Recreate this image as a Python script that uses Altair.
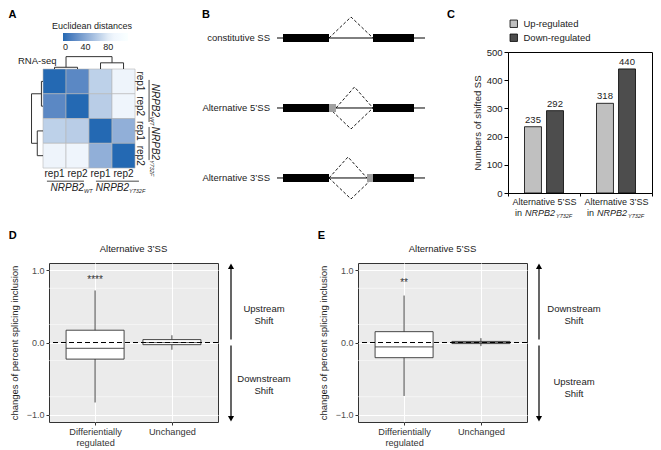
import altair as alt
import pandas as pd

FONT = "Liberation Sans"
INK = "#222222"

# ---------------- Panel A: sample distance heatmap ----------------
sample_reps = ["rep1", "rep2", "rep1", "rep2"]
dist_matrix = [
    [0, 20, 64, 85],
    [20, 0, 62, 87],
    [64, 62, 0, 44],
    [85, 87, 44, 0],
]
dendro_heights = [0.07, 0.25, 0.5]   # WT merge, Y732F merge, root
geno_main = ["NRPB2", "NRPB2"]
geno_sub = ["WT", "Y732F"]
legend_ticks = [0, 40, 80]

# ---------------- Panel B: splicing schematics ----------------
ss_types = ["constitutive SS", "Alternative 5\u2019SS", "Alternative 3\u2019SS"]
gene_span = [0, 148]
exon_start = [6, 96]
exon_end = [52, 137]
alt_row = [1, 2]
alt_start = [52, 90]
alt_end = [59, 96]
junc_row = [0, 1, 1, 2, 2]
junc_donor = [52, 59, 52, 52, 52]
junc_acceptor = [96, 96, 96, 90, 96]
junc_side = [-1, -1, 1, -1, 1]

# ---------------- Panel C: shifted splice sites ----------------
c_groups = ["Alternative 5\u2019SS", "Alternative 3\u2019SS"]
c_status = ["Up-regulated", "Down-regulated"]
c_up = [235, 318]
c_down = [292, 440]

# ---------------- Panels D / E: box plot summaries ----------------
box_cats = ["Differientially regulated", "Unchanged"]
d_lower = [-0.83, -0.10]
d_q1 = [-0.23, -0.03]
d_med = [-0.08, 0.0]
d_q3 = [0.17, 0.04]
d_upper = [0.72, 0.10]
d_star = ["****", ""]
d_star_y = [0.87, 0.87]

e_lower = [-0.74, -0.05]
e_q1 = [-0.21, -0.015]
e_med = [-0.06, 0.0]
e_q3 = [0.15, 0.015]
e_upper = [0.65, 0.06]
e_star = ["**", ""]
e_star_y = [0.83, 0.83]

minor_grid = [-0.75, -0.25, 0.25, 0.75]
y_ticks = [-1.0, -0.5, 0.0, 0.5, 1.0]


# =====================================================================
# Panel A
# =====================================================================
sxA = alt.Scale(domain=[0.26, 5.52], nice=False, zero=False)
syA = alt.Scale(domain=[-0.687, 5.29], nice=False, zero=False, reverse=True)


def axy(sx, sy):
    return dict(x=alt.X("x:Q", scale=sx, axis=None), y=alt.Y("y:Q", scale=sy, axis=None))


heat = pd.DataFrame([
    {"r": r, "r2": r + 1, "c": c, "c2": c + 1, "d": dist_matrix[r][c]}
    for r in range(4) for c in range(4)
])

heat_layer = alt.Chart(heat).mark_rect(stroke="#b5b5b5", strokeWidth=0.6).encode(
    x=alt.X("c:Q", scale=sxA, axis=None), x2=alt.X2("c2"),
    y=alt.Y("r:Q", scale=syA, axis=None), y2=alt.Y2("r2"),
    color=alt.Color(
        "d:Q",
        scale=alt.Scale(domain=[0, 85, 115], range=["#2469b3", "#eef4fb", "#ffffff"]),
        legend=alt.Legend(orient="none", legendX=14, legendY=-19, direction="horizontal",
                          gradientLength=65, gradientThickness=8, title=None,
                          values=legend_ticks, labelFontSize=9, labelColor=INK,
                          gradientStrokeWidth=0),
    ),
)


def dendro(h):
    hw, hy, hr = h
    return [
        (0.5, 0, 0.5, -hw), (1.5, 0, 1.5, -hw), (0.5, -hw, 1.5, -hw),
        (2.5, 0, 2.5, -hy), (3.5, 0, 3.5, -hy), (2.5, -hy, 3.5, -hy),
        (1.0, -hw, 1.0, -hr), (3.0, -hy, 3.0, -hr), (1.0, -hr, 3.0, -hr),
    ]


segs = dendro(dendro_heights)
top_d = pd.DataFrame([{"x": p, "y": h, "x2": p2, "y2": h2} for p, h, p2, h2 in segs])
left_d = pd.DataFrame([{"x": h, "y": p, "x2": h2, "y2": p2} for p, h, p2, h2 in segs])


def seg_layer(df, sx, sy, **kw):
    return alt.Chart(df).mark_rule(**kw).encode(
        x=alt.X("x:Q", scale=sx, axis=None), y=alt.Y("y:Q", scale=sy, axis=None),
        x2=alt.X2("x2"), y2=alt.Y2("y2"))


top_dendro = seg_layer(top_d, sxA, syA, color="#333", strokeWidth=1)
left_dendro = seg_layer(left_d, sxA, syA, color="#333", strokeWidth=1)


def text_layer(df, sx, sy, **kw):
    return alt.Chart(df).mark_text(**kw).encode(text="t:N", **axy(sx, sy))


a_letter = text_layer(pd.DataFrame({"t": ["A"], "x": [-1.5], "y": [-2.18]}), sxA, syA,
                      align="left", baseline="middle", fontSize=11, fontWeight="bold", color="black")
a_legtitle = text_layer(pd.DataFrame({"t": ["Euclidean distances"], "x": [2.13], "y": [-1.74]}), sxA, syA,
                        align="center", baseline="middle", fontSize=9, color=INK)
a_rnaseq = text_layer(pd.DataFrame({"t": ["RNA-seq"], "x": [-1.09], "y": [-0.32]}), sxA, syA,
                      align="left", baseline="middle", fontSize=9.5, color=INK)
a_rep_bottom = text_layer(pd.DataFrame({"t": sample_reps, "x": [i + 0.5 for i in range(4)],
                                        "y": [4.24] * 4}), sxA, syA,
                          align="center", baseline="middle", fontSize=10, color=INK)
a_rep_right = text_layer(pd.DataFrame({"t": sample_reps, "y": [i + 0.5 for i in range(4)],
                                       "x": [4.22] * 4}), sxA, syA,
                         align="center", baseline="middle", fontSize=10, color=INK, angle=90)
a_bline = seg_layer(pd.DataFrame({"x": [0.17, 2.3], "x2": [1.78, 4.17], "y": [4.53] * 2, "y2": [4.53] * 2}),
                    sxA, syA, color="#333", strokeWidth=0.9)
a_rline = seg_layer(pd.DataFrame({"y": [0.44, 2.34], "y2": [2.14, 3.68], "x": [4.61] * 2, "x2": [4.61] * 2}),
                    sxA, syA, color="#333", strokeWidth=0.9)
a_bname = text_layer(pd.DataFrame({"t": geno_main, "x": [1.78, 3.74], "y": [4.81] * 2}), sxA, syA,
                     align="right", baseline="middle", fontSize=10, fontStyle="italic", color=INK)
a_bsub = text_layer(pd.DataFrame({"t": geno_sub, "x": [1.78, 3.74], "y": [4.81] * 2}), sxA, syA,
                    align="left", baseline="middle", fontSize=5.5, fontStyle="italic", dy=3, color=INK)
a_rname = text_layer(pd.DataFrame({"t": geno_main, "y": [1.94, 3.68], "x": [4.87] * 2}), sxA, syA,
                     align="right", baseline="middle", fontSize=10, fontStyle="italic", angle=90, color=INK)
a_rsub = text_layer(pd.DataFrame({"t": geno_sub, "y": [1.94, 3.68], "x": [4.87] * 2}), sxA, syA,
                    align="left", baseline="middle", fontSize=5.5, fontStyle="italic", angle=90, dy=3, color=INK)

panelA = alt.layer(heat_layer, top_dendro, left_dendro, a_letter, a_legtitle, a_rnaseq,
                   a_rep_bottom, a_rep_right, a_bline, a_rline, a_bname, a_bsub,
                   a_rname, a_rsub).properties(width=121, height=148)

# =====================================================================
# Panel B
# =====================================================================
sxB = alt.Scale(domain=[-97, 184], nice=False, zero=False)
syB = alt.Scale(domain=[0.2, 2.386], nice=False, zero=False, reverse=True)

rows = list(range(len(ss_types)))
gene_df = pd.DataFrame({"x": [gene_span[0]] * 3, "x2": [gene_span[1]] * 3, "y": rows, "y2": rows})
exon_df = pd.DataFrame([{"x": s, "x2": e, "y": r, "y2": r}
                        for r in rows for s, e in zip(exon_start, exon_end)])
alt_df = pd.DataFrame({"x": alt_start, "x2": alt_end, "y": alt_row, "y2": alt_row})
junc_pts = []
for j, (r, d, a, s) in enumerate(zip(junc_row, junc_donor, junc_acceptor, junc_side)):
    junc_pts += [
        {"j": j, "k": 0, "x": d, "y": r},
        {"j": j, "k": 1, "x": (d + a) / 2, "y": r + s * 0.3},
        {"j": j, "k": 2, "x": a, "y": r},
    ]
junc_df = pd.DataFrame(junc_pts)

b_gene = seg_layer(gene_df, sxB, syB, color="black", strokeWidth=1)
b_exon = seg_layer(exon_df, sxB, syB, color="black", strokeWidth=8, strokeCap="butt")
b_alt = seg_layer(alt_df, sxB, syB, color="#a0a0a0", strokeWidth=8, strokeCap="butt")
b_junc = alt.Chart(junc_df).mark_line(color="black", strokeWidth=0.9, strokeDash=[3, 2]).encode(
    detail="j:N", order="k:Q", **axy(sxB, syB))
b_labels = text_layer(pd.DataFrame({"t": ss_types, "y": rows, "x": [-7] * 3}), sxB, syB,
                      align="right", baseline="middle", fontSize=9.5, color=INK)
b_letters = text_layer(pd.DataFrame({"t": ["B", "C"], "x": [-75, 170], "y": [-0.33, -0.33]}), sxB, syB,
                       align="left", baseline="middle", fontSize=11, fontWeight="bold", color="black")

panelB = alt.layer(b_gene, b_junc, b_exon, b_alt, b_labels, b_letters).properties(width=281, height=153)

# =====================================================================
# Panel C
# =====================================================================
c_rows = []
for g, u, d in zip(c_groups, c_up, c_down):
    c_rows.append({"group": g, "status": c_status[0], "value": u})
    c_rows.append({"group": g, "status": c_status[1], "value": d})
cdf = pd.DataFrame(c_rows)

cx = alt.X("group:N", sort=c_groups,
           scale=alt.Scale(domain=c_groups, paddingInner=0, paddingOuter=0),
           axis=alt.Axis(title=None, labelAngle=0, tickBand="extent", tickSize=3, tickColor="black",
                         domainColor="black", labelFontSize=9, labelColor=INK, labelPadding=1))
cxo = alt.XOffset("status:N", sort=c_status,
                  scale=alt.Scale(domain=c_status, paddingInner=0.23, paddingOuter=0.75))
cy = alt.Y("value:Q", scale=alt.Scale(domain=[0, 500], nice=False),
           axis=alt.Axis(values=[0, 100, 200, 300, 400, 500], title="Numbers of shifted SS",
                         grid=False, tickSize=4, tickColor="black", domainColor="black",
                         labelFontSize=9.5, labelColor=INK, titleFontSize=9.5,
                         titleFontWeight="normal", titleColor=INK, titlePadding=4))

c_bars = alt.Chart(cdf).mark_bar(stroke="black", strokeWidth=0.8).encode(
    x=cx, xOffset=cxo, y=cy,
    fill=alt.Fill("status:N", sort=c_status,
                  scale=alt.Scale(domain=c_status, range=["#c0c0c0", "#4d4d4d"]),
                  legend=alt.Legend(orient="none", legendX=1, legendY=-33, title=None,
                                    symbolType="square", symbolSize=55, symbolStrokeColor="black",
                                    symbolStrokeWidth=0.8, labelFontSize=9.5, labelColor=INK,
                                    rowPadding=2, labelOffset=5)))
c_vals = alt.Chart(cdf).mark_text(baseline="bottom", dy=-2, fontSize=9.5, color=INK).encode(
    x=cx, xOffset=cxo, y=cy, text="value:Q")

line2 = pd.DataFrame({"group": c_groups, "pre": ["in"] * 2, "main": geno_main[1:] * 2,
                      "sub": geno_sub[1:] * 2})
c_in = alt.Chart(line2).mark_text(align="right", baseline="middle", dx=-22, fontSize=9, color=INK).encode(
    x=cx, y=alt.value(161), text="pre:N")
c_main = alt.Chart(line2).mark_text(align="left", baseline="middle", dx=-19, fontSize=9,
                                    fontStyle="italic", color=INK).encode(
    x=cx, y=alt.value(161), text="main:N")
c_sub = alt.Chart(line2).mark_text(align="left", baseline="middle", dx=12, dy=3, fontSize=5.5,
                                   fontStyle="italic", color=INK).encode(
    x=cx, y=alt.value(161), text="sub:N")

panelC = alt.layer(c_bars, c_vals, c_in, c_main, c_sub).properties(
    width=144, height=141, view=alt.ViewBackground(stroke="black", strokeWidth=1))


# =====================================================================
# Panels D and E
# =====================================================================
PH = 159


def box_panel(title, lower, q1, med, q3, upper, star, star_y):
    df = pd.DataFrame({"cat": box_cats, "lower": lower, "q1": q1, "med": med, "q3": q3,
                       "upper": upper, "star": star, "star_y": star_y})
    ys = alt.Scale(domain=[-1.1, 1.1], nice=False, zero=False)
    x = alt.X("cat:N", sort=box_cats, scale=alt.Scale(type="point", padding=0.6),
              axis=alt.Axis(title=None, labelAngle=0, grid=True, gridColor="white", gridWidth=1.1,
                            domain=False, tickColor="#333", tickSize=3, labelFontSize=9.2,
                            labelColor="#333", labelPadding=2, labelLineHeight=11,
                            labelExpr="datum.value == 'Differientially regulated' ? "
                                      "['Differientially', 'regulated'] : datum.label"))
    yax = alt.Axis(title="changes of percent splicing inclusion", values=y_ticks, format=".1f",
                   grid=True, gridColor="white", gridWidth=1.1, domain=False, tickColor="#333",
                   tickSize=3, labelFontSize=9, labelColor="#4d4d4d", titleFontSize=9.5,
                   titleFontWeight="normal", titlePadding=7, titleColor=INK)
    minor = alt.Chart(pd.DataFrame({"v": minor_grid})).mark_rule(color="white", strokeWidth=0.5).encode(
        y=alt.Y("v:Q", scale=ys, axis=yax))
    whisk = alt.Chart(df).mark_rule(color="#333", strokeWidth=0.9).encode(
        x=x, y=alt.Y("lower:Q", scale=ys), y2=alt.Y2("upper"))
    box = alt.Chart(df).mark_bar(size=58, fill="white", stroke="#333", strokeWidth=0.9).encode(
        x=x, y=alt.Y("q1:Q", scale=ys), y2=alt.Y2("q3"))
    medl = alt.Chart(df).mark_tick(size=58, thickness=1.2, color="#333").encode(
        x=x, y=alt.Y("med:Q", scale=ys))
    zero = alt.Chart(df).mark_rule(color="black", strokeWidth=1.2, strokeDash=[5, 3]).encode(
        y=alt.datum(0, scale=ys))
    stars = alt.Chart(df).mark_text(fontSize=10, color="#333", baseline="middle").encode(
        x=x, y=alt.Y("star_y:Q", scale=ys), text="star:N")
    return alt.layer(minor, whisk, box, medl, zero, stars).properties(
        width=169, height=PH,
        view=alt.ViewBackground(fill="#ebebeb", stroke="#333", strokeWidth=1),
        title=alt.Title(title, fontSize=9.5, fontWeight="normal", anchor="middle", offset=10, color=INK))


def arrow_panel(labels, label_y, text_x, arrow_x, width):
    ys = alt.Scale(domain=[-1.1, 1.1], nice=False, zero=False)
    shafts = pd.DataFrame({"y": [0.04, -0.04], "y2": [1.04, -1.04]})
    shaft = alt.Chart(shafts).mark_rule(color="black", strokeWidth=1.2).encode(
        x=alt.value(arrow_x), y=alt.Y("y:Q", scale=ys, axis=None), y2=alt.Y2("y2"))
    up = alt.Chart(pd.DataFrame({"y": [1.055]})).mark_point(
        shape="triangle-up", filled=True, size=38, color="black", opacity=1).encode(
        x=alt.value(arrow_x), y=alt.Y("y:Q", scale=ys, axis=None))
    down = alt.Chart(pd.DataFrame({"y": [-1.055]})).mark_point(
        shape="triangle-down", filled=True, size=38, color="black", opacity=1).encode(
        x=alt.value(arrow_x), y=alt.Y("y:Q", scale=ys, axis=None))
    txt = alt.Chart(pd.DataFrame({"t": labels, "y": label_y})).mark_text(
        fontSize=9.5, color=INK, lineBreak="\n", lineHeight=12, align="center", baseline="middle").encode(
        x=alt.value(text_x), y=alt.Y("y:Q", scale=ys, axis=None), text="t:N")
    return alt.layer(shaft, up, down, txt).properties(width=width, height=PH)


panelD = box_panel("Alternative 3\u2019SS", d_lower, d_q1, d_med, d_q3, d_upper, d_star, d_star_y)
panelE = box_panel("Alternative 5\u2019SS", e_lower, e_q1, e_med, e_q3, e_upper, e_star, e_star_y)
arrowD = arrow_panel(["Upstream\nShift", "Downstream\nShift"], [0.47, -0.51], 40, 7, 89)
arrowE = arrow_panel(["Downstream\nShift", "Upstream\nShift"], [0.47, -0.54], 41, 6, 100)

letter_title = dict(anchor="start", fontSize=11, fontWeight="bold", color="black", offset=2)
groupD = alt.hconcat(panelD, arrowD, spacing=4).properties(title=alt.Title("D", **letter_title))
groupE = alt.hconcat(panelE, arrowE, spacing=4).properties(title=alt.Title("E", **letter_title))

row1 = alt.hconcat(panelA, panelB, panelC, spacing=10).resolve_scale(color="independent", fill="independent")
row2 = alt.hconcat(groupD, groupE, spacing=4).resolve_scale(color="independent", fill="independent")

chart = alt.vconcat(row1, row2, spacing=10).resolve_scale(
    color="independent", fill="independent"
).properties(padding=0).configure(font=FONT).configure_view(strokeWidth=0)

chart.save("out.html", embed_options={"renderer": "svg", "actions": False})
